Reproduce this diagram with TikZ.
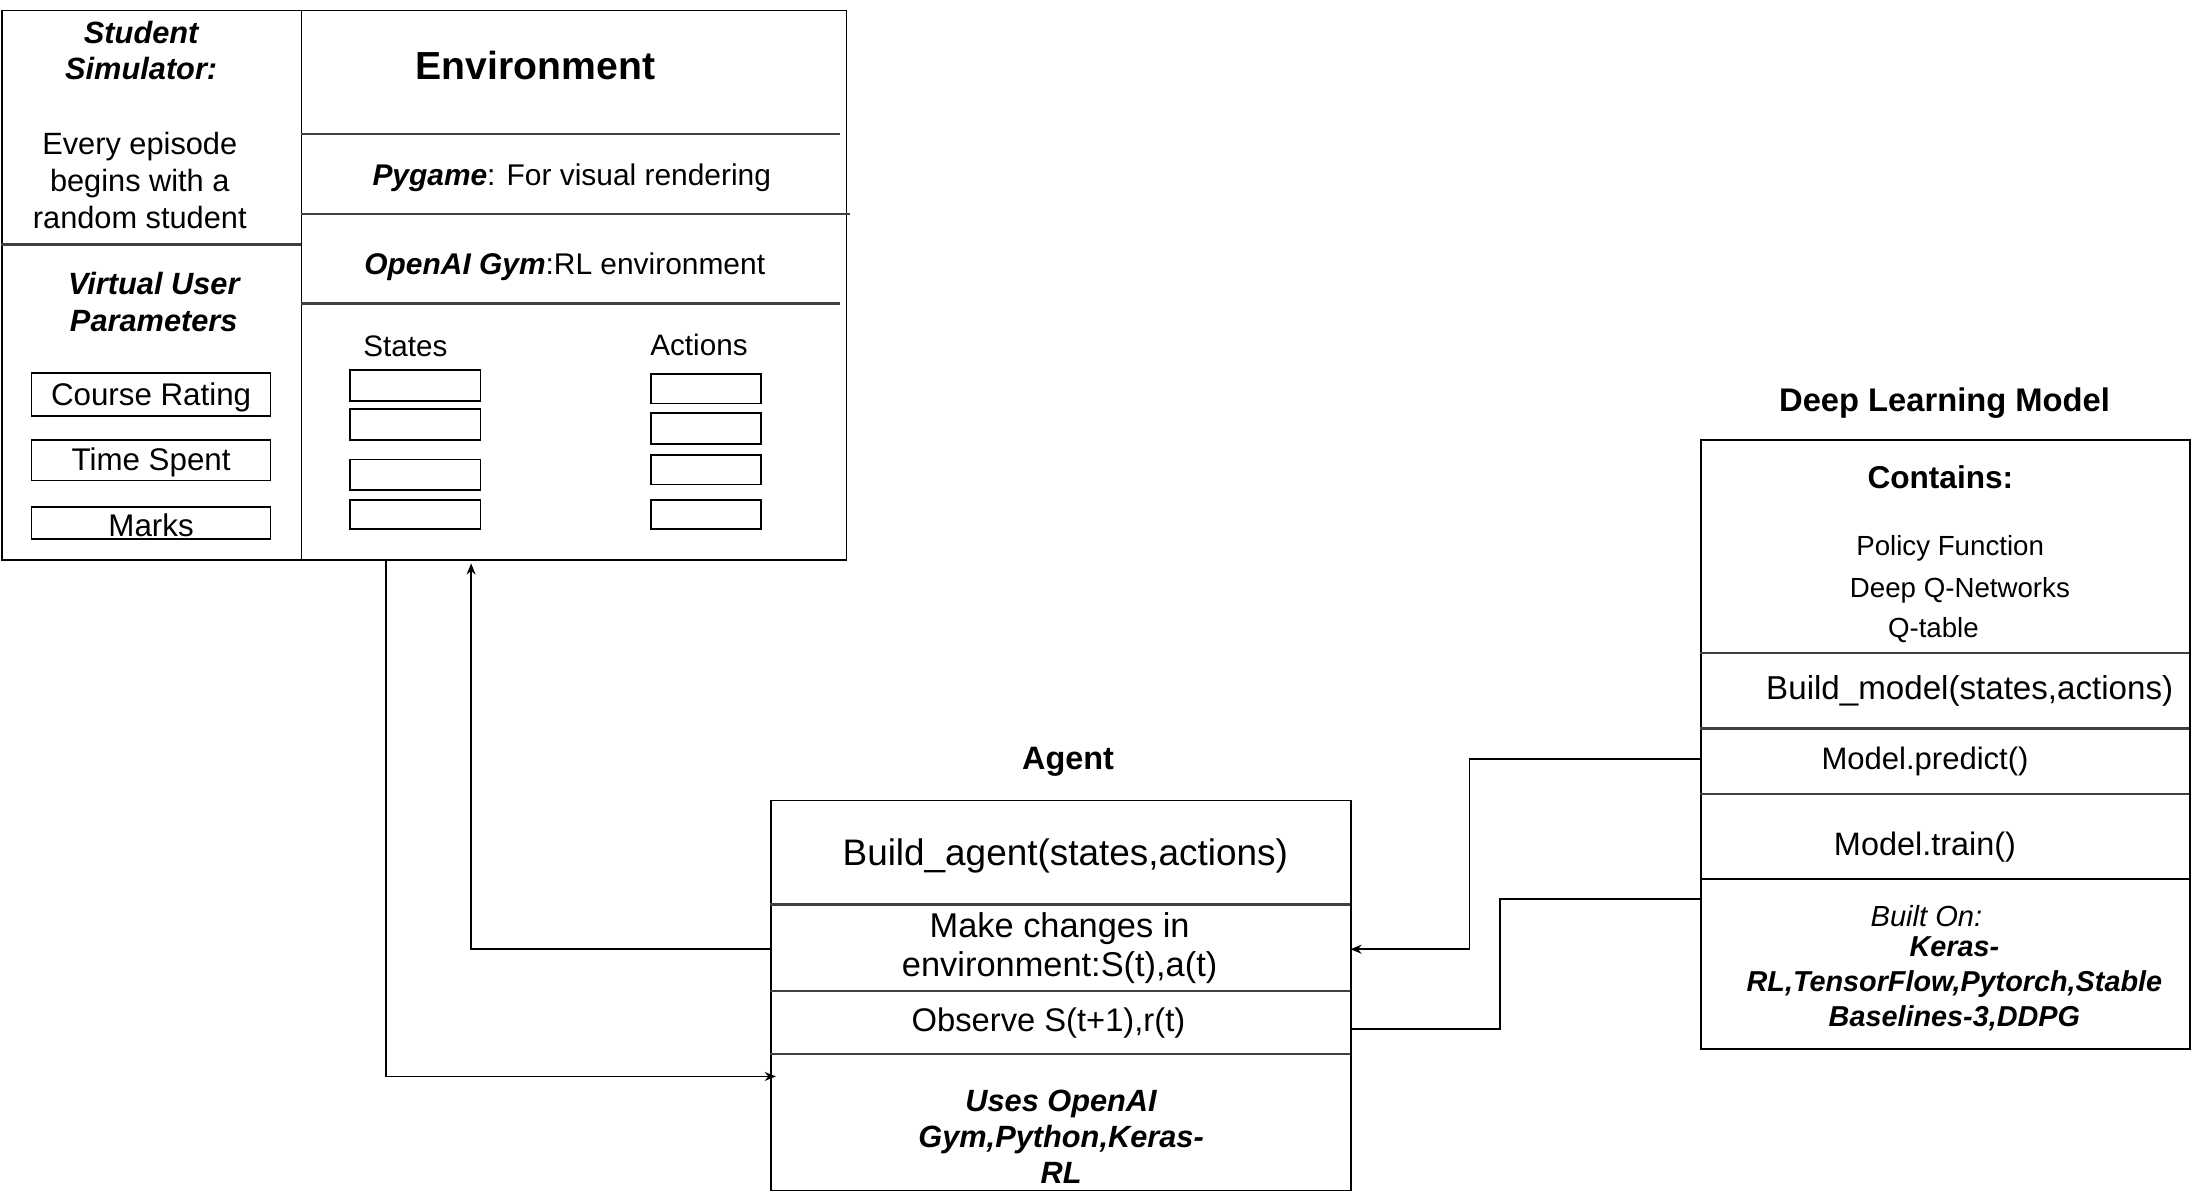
\documentclass[tikz,border=0pt]{standalone}
\usepackage{fontspec}
\setmainfont{Liberation Sans}
\usetikzlibrary{arrows.meta}
\newcommand{\fs}[2]{\fontsize{#1bp}{#2bp}\selectfont}
\begin{document}
\begin{tikzpicture}[x=0.5bp,y=-0.5bp,
  rbox/.style 2 args={draw, line width=0.6bp, inner sep=0pt, anchor=north west,
     minimum width=#1*0.5bp, minimum height=#2*0.5bp},
  divider/.style={line width=0.9bp, draw=black!75},
  txt/.style={inner sep=0pt, align=center, yshift=-1bp},
  conn/.style={line width=0.55bp},
  tip/.style={-{Stealth[length=4bp,width=3.2bp]}}
]
\useasboundingbox (0,0) rectangle (1568,852);

% ---------------- Student simulator / Environment ----------------
\node[rbox={214.3}{393}] (sim) at (0.7,7) {};
\node[rbox={390}{393}] (env) at (215,7) {};
\draw[divider] (0.7,175) -- (215,175);
\draw[divider] (215,96) -- (601,96);
\draw[divider] (215,153) -- (608,153);
\draw[divider] (215,217) -- (601,217);

\node[txt, font=\fs{11}{13}\bfseries\itshape] (tsim) at (101,34) {Student\\Simulator:};
\node[txt, font=\fs{11}{13.3}] (tepi) at (100,127) {Every episode\\begins with a\\random student};
\node[txt, font=\fs{11}{13.5}\bfseries\itshape] (tvup) at (110,214) {Virtual User\\Parameters};

\node[rbox={171}{31}] (course) at (22,266) {};
\node[txt, font=\fs{11.2}{13}] (tcourse) at (course.center) {Course Rating};
\node[rbox={171}{29}] (time) at (22,314) {};
\node[txt, font=\fs{11.2}{13}] (ttime) at (time.center) {Time Spent};
\node[rbox={171}{23}] (marks) at (22,362) {};
\node[txt, font=\fs{11.2}{13}] (tmarks) at (marks.center) {Marks};

\node[txt, font=\fs{14}{16}\bfseries] (tenv) at (383,45) {Environment};
\node[txt, font=\fs{10.7}{13}] (tpyg) at (409,125) {{\bfseries\itshape Pygame}: For visual rendering};
\node[txt, font=\fs{10.7}{13}] (tgym) at (404,189) {{\bfseries\itshape OpenAI Gym}:RL environment};
\node[txt, font=\fs{10.6}{13}] (tstates) at (290,246) {States};
\node[txt, font=\fs{10.6}{13}] (tactions) at (500,245) {Actions};

\node[rbox={93}{22}] (s1) at (250,264) {};
\node[rbox={93}{22}] (s2) at (250,292) {};
\node[rbox={93}{22}] (s3) at (250,328) {};
\node[rbox={93}{21}] (s4) at (250,357) {};
\node[rbox={79}{21}] (a1) at (465,267) {};
\node[rbox={79}{22}] (a2) at (465,295) {};
\node[rbox={79}{21}] (a3) at (465,325) {};
\node[rbox={79}{21}] (a4) at (465,357) {};

% ---------------- Agent ----------------
\node[txt, font=\fs{11.6}{14}\bfseries] (tagent) at (764,543) {Agent};
\node[rbox={415}{279}] (agent) at (551,572) {};
\draw[divider] (551,647) -- (966,647);
\draw[divider] (551,709) -- (966,709);
\draw[divider] (551,754) -- (966,754);
\node[txt, font=\fs{13.2}{15}] (tbuild) at (762,610) {Build\_agent(states,actions)};
\node[txt, font=\fs{12.3}{14}] (tmake) at (758,676) {Make changes in\\environment:S(t),a(t)};
\node[txt, font=\fs{11.7}{14}] (tobs) at (750,730) {Observe S(t+1),r(t)};
\node[txt, font=\fs{11}{12.8}\bfseries\itshape] (tuses) at (759,811) {Uses OpenAI\\Gym,Python,Keras-\\RL};

% ---------------- Deep Learning Model ----------------
\node[txt, font=\fs{11.7}{14}\bfseries] (tdlm) at (1391,286) {Deep Learning Model};
\node[rbox={350}{436}] (dlm) at (1216,314) {};
\draw[divider] (1216,467) -- (1566,467);
\draw[divider] (1216,521) -- (1566,521);
\draw[divider] (1216,568) -- (1566,568);
\draw[line width=0.6bp] (1216,629) -- (1566,629);
\node[txt, font=\fs{11.3}{14}\bfseries] (tcont) at (1388,339) {Contains:};
\node[txt, font=\fs{9.9}{12}] (tpol) at (1395,390) {Policy Function};
\node[txt, font=\fs{9.9}{12}] (tdqn) at (1402,420) {Deep Q-Networks};
\node[txt, font=\fs{9.9}{12}] (tqt) at (1383,449) {Q-table};
\node[txt, font=\fs{11.85}{14}] (tbm) at (1409,492) {Build\_model(states,actions)};
\node[txt, font=\fs{11.1}{14}] (tpred) at (1377,543) {Model.predict()};
\node[txt, font=\fs{11.6}{14}] (ttrain) at (1377,604) {Model.train()};
\node[txt, font=\fs{10.4}{12}\itshape] (tbuilt) at (1378,653) {Built On:};
\node[txt, font=\fs{10.3}{12.5}\bfseries\itshape] (tkeras) at (1398,702) {Keras-\\RL,TensorFlow,Pytorch,Stable\\Baselines-3,DDPG};

% ---------------- Connectors ----------------
\coordinate (envout) at (276,400);
\coordinate (agentin) at (555,770);
\coordinate (agentout) at (551,679);
\coordinate (envin) at (337,403);
\coordinate (c2a) at (337,679);
\coordinate (dlmout) at (1216,543);
\coordinate (c3a) at (1051,543);
\coordinate (c3b) at (1051,679);
\coordinate (agentin2) at (966,679);
\coordinate (agentout2) at (966,736);
\coordinate (c4a) at (1073,736);
\coordinate (c4b) at (1073,643);
\coordinate (dlmin) at (1216,643);

\draw[conn,tip] (envout) |- (agentin);
\draw[conn,tip] (agentout) -- (c2a) -- (envin);
\draw[conn,tip] (dlmout) -- (c3a) -- (c3b) -- (agentin2);
\draw[conn] (agentout2) -- (c4a) -- (c4b) -- (dlmin);
\end{tikzpicture}
\end{document}
